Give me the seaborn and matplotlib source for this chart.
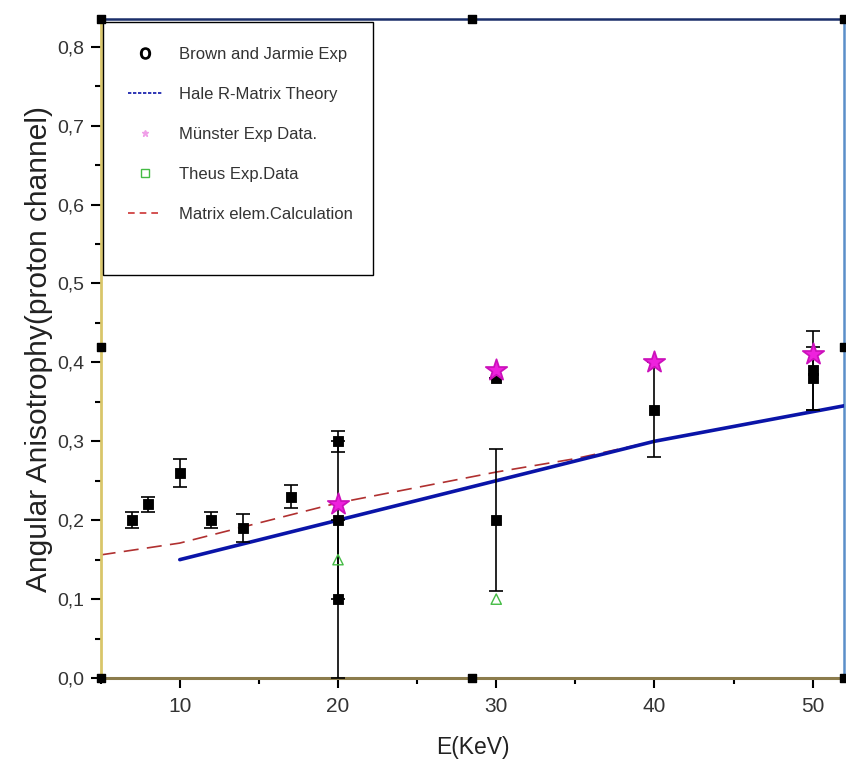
import matplotlib
matplotlib.use("Agg")
import matplotlib.pyplot as plt
import seaborn as sns
import numpy as np
import pandas as pd
from matplotlib.ticker import MultipleLocator, FuncFormatter
from matplotlib.lines import Line2D
from matplotlib.patches import Rectangle

# ---- data ----
brown_x = [7, 8, 10, 12, 14, 17, 20, 20, 20, 30, 30, 40, 50, 50]
brown_y = [0.20, 0.22, 0.26, 0.20, 0.19, 0.23, 0.30, 0.20, 0.10, 0.38, 0.20, 0.34, 0.38, 0.39]
brown_err = [0.01, 0.01, 0.018, 0.01, 0.018, 0.015, 0.013, 0.10, 0.10, 0.0, 0.09, 0.06, 0.04, 0.05]

munster_x = [20, 30, 40, 50]
munster_y = [0.22, 0.39, 0.40, 0.41]

theus_x = [20, 30]
theus_y = [0.15, 0.10]

hale_x = [10, 20, 30, 40, 52]
hale_y = [0.15, 0.20, 0.25, 0.30, 0.345]

matrix_x = [5, 10, 20, 30, 35, 40, 52]
matrix_y = [0.156, 0.171, 0.222, 0.261, 0.278, 0.30, 0.345]

xticks = [10, 20, 30, 40, 50]
yticks = [0.0, 0.1, 0.2, 0.3, 0.4, 0.5, 0.6, 0.7, 0.8]

legend_labels = ['Brown and Jarmie Exp', 'Hale R-Matrix Theory', 'Münster Exp Data.',
                 'Theus Exp.Data', 'Matrix elem.Calculation']

sns.set_theme(style="white")
plt.rcParams['font.family'] = ['Liberation Sans', 'DejaVu Sans']

fig = plt.figure(figsize=(8.46, 7.78), dpi=100)
ax = fig.add_axes([0.119, 0.1285, 0.879, 0.847])

# lines
sns.lineplot(x=matrix_x, y=matrix_y, ax=ax, color='#b03030', lw=1.2,
             linestyle=(0, (9, 5)), zorder=2)
sns.lineplot(x=hale_x, y=hale_y, ax=ax, color='#0a14a8', lw=2.6, zorder=3)

# error bars for Brown
ax.errorbar(brown_x, brown_y, yerr=brown_err, fmt='none', ecolor='black',
            elinewidth=1.2, capsize=5, capthick=1.2, zorder=4)
sns.scatterplot(x=brown_x, y=brown_y, ax=ax, marker='s', s=60, color='black',
                edgecolor='black', zorder=5)
sns.scatterplot(x=munster_x, y=munster_y, ax=ax, marker='*', s=260,
                color='#ee22dd', edgecolor='#cc11bb', zorder=6)
sns.scatterplot(x=theus_x, y=theus_y, ax=ax, marker='^', s=55,
                facecolor='none', edgecolor='#44bb44', linewidth=1.0, zorder=6)

ax.set_xlim(5, 52)
ax.set_ylim(0, 0.835)
ax.set_xticks(xticks)
ax.set_yticks(yticks)
ax.xaxis.set_minor_locator(MultipleLocator(5))
ax.yaxis.set_minor_locator(MultipleLocator(0.05))
ax.yaxis.set_major_formatter(FuncFormatter(lambda v, p: f"{v:.1f}".replace('.', ',')))
ax.tick_params(axis='both', which='major', direction='out', length=7, width=1.5,
               colors='black', labelcolor='#333333',
               bottom=True, left=True, top=False, right=False)
ax.tick_params(axis='both', which='minor', direction='out', length=4, width=1.5,
               colors='black', bottom=True, left=True, top=False, right=False)
ax.tick_params(axis='x', labelsize=15, pad=7)
ax.tick_params(axis='y', labelsize=14, pad=5)

ax.set_xlabel('E(KeV)', fontsize=16.5, color='#222222', labelpad=14)
ax.set_ylabel('Angular Anisotrophy(proton channel)', fontsize=21.5, color='#222222', labelpad=3)

ax.spines['left'].set_color('#d9c66a')
ax.spines['left'].set_linewidth(2.0)
ax.spines['bottom'].set_color('#8c7c4c')
ax.spines['bottom'].set_linewidth(2.2)
ax.spines['top'].set_color('#1a2f6a')
ax.spines['top'].set_linewidth(1.8)
ax.spines['right'].set_color('#5b8fc9')
ax.spines['right'].set_linewidth(1.8)

# selection handles (artifacts) on frame
hx = [5, 28.5, 52, 5, 52, 5, 28.5, 52]
hy = [0.835, 0.835, 0.835, 0.42, 0.42, 0.0, 0.0, 0.0]
ax.scatter(hx, hy, marker='s', s=40, color='black', clip_on=False, zorder=10)

# legend
handles = [
    Line2D([], [], linestyle='none', marker=r'$\mathrm{O}$', markersize=8, color='black'),
    Line2D([], [], color='#0a14a8', lw=1.2, linestyle=(0, (2, 1))),
    Line2D([], [], linestyle='none', marker='*', markersize=5, color='#f0a0e8'),
    Line2D([], [], linestyle='none', marker='s', markersize=6, markerfacecolor='none',
           markeredgecolor='#44bb44'),
    Line2D([], [], color='#cc3333', lw=1.2, linestyle=(0, (4, 3))),
]
# frame box of legend (axes coords)
ax.add_patch(Rectangle((0.0027, 0.6115), 0.3634, 0.3839, transform=ax.transAxes,
                       facecolor='white', edgecolor='black', lw=1.0, zorder=7))
leg = ax.legend(handles, legend_labels, loc='upper left', bbox_to_anchor=(0.0027, 0.9954),
                frameon=False, fontsize=12, labelspacing=1.5,
                handlelength=2.1, borderpad=1.5, handletextpad=1.0,
                borderaxespad=0.0)
leg.set_zorder(8)
for t in leg.get_texts():
    t.set_color('#333333')

fig.savefig('out.png', dpi=100)
